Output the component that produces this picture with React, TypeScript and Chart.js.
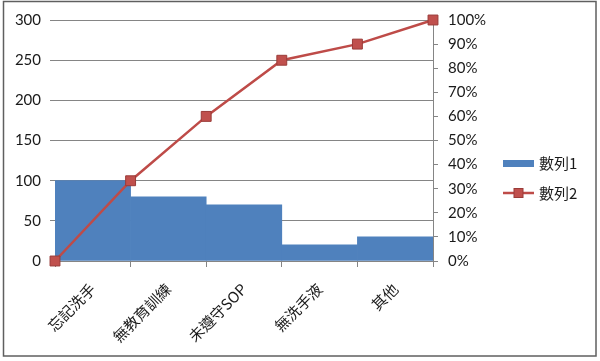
import React, { useEffect, useRef } from 'react';
import { Chart, registerables } from 'chart.js';

Chart.register(...registerables);

const categories = ['忘記洗手', '無教育訓練', '未遵守SOP', '無洗手液', '其他'];
const counts = [100, 80, 70, 20, 30];
const cumulativePositions = [0, 1, 2, 3, 4, 5];
const cumulativePercent = [0, 33.3, 60, 83.3, 90, 100];
const seriesNames = ['數列1', '數列2'];
const countAxis = { min: 0, max: 300, step: 50 };
const percentAxis = { min: 0, max: 100, step: 10 };

const BAR_COLOR = '#4F81BD';
const LINE_COLOR = '#BE4B48';
const MARKER_FILL = '#C0504D';
const MARKER_BORDER = '#9A3B38';
const GRID = '#858585';
const TEXT = '#1a1a1a';
const LATIN = 'Lato, "Noto Sans CJK TC", sans-serif';
const CJK = '"Noto Sans CJK TC", Lato, sans-serif';

const decorPlugin = {
  id: 'decor',
  afterDraw(chart: any) {
    const ctx = chart.ctx;
    ctx.save();
    // outer frame
    ctx.strokeStyle = '#5f5f5f';
    ctx.lineWidth = 1.5;
    ctx.strokeRect(3.5, 1.5, 592.5, 354.5);

    // legend
    const lx = 503;
    ctx.fillStyle = BAR_COLOR;
    ctx.fillRect(lx, 160, 31, 7);
    ctx.font = '15px ' + CJK;
    ctx.fillStyle = TEXT;
    ctx.textBaseline = 'middle';
    ctx.textAlign = 'left';
    ctx.fillText(seriesNames[0], lx + 36, 163);

    ctx.strokeStyle = LINE_COLOR;
    ctx.lineWidth = 2.5;
    ctx.beginPath();
    ctx.moveTo(lx, 193);
    ctx.lineTo(lx + 31, 193);
    ctx.stroke();
    ctx.fillStyle = MARKER_FILL;
    ctx.strokeStyle = MARKER_BORDER;
    ctx.lineWidth = 1;
    ctx.fillRect(lx + 11, 188.5, 9, 9);
    ctx.strokeRect(lx + 11, 188.5, 9, 9);
    ctx.fillStyle = TEXT;
    ctx.fillText(seriesNames[1], lx + 36, 193);
    ctx.restore();
  },
};

export default function App() {
  const ref = useRef<HTMLCanvasElement>(null);

  useEffect(() => {
    if (!ref.current) return;
    const chart = new Chart(ref.current, {
      type: 'line',
      data: {
        labels: categories,
        datasets: [
          {
            type: 'bar',
            label: seriesNames[0],
            data: counts,
            backgroundColor: BAR_COLOR,
            borderWidth: 0,
            barPercentage: 1,
            categoryPercentage: 1,
            grouped: false,
            xAxisID: 'x',
            yAxisID: 'y',
            order: 2,
          } as any,
          {
            type: 'line',
            label: seriesNames[1],
            data: cumulativePositions.map((x, i) => ({ x, y: cumulativePercent[i] })),
            borderColor: LINE_COLOR,
            borderWidth: 2.5,
            pointStyle: 'rect',
            pointRadius: 7,
            pointBackgroundColor: MARKER_FILL,
            pointBorderColor: MARKER_BORDER,
            pointBorderWidth: 1,
            xAxisID: 'x2',
            yAxisID: 'y2',
            clip: false,
            order: 1,
          } as any,
        ],
      },
      options: {
        responsive: false,
        animation: false,
        maintainAspectRatio: false,
        layout: { padding: { top: 20, right: 107, bottom: 5, left: 0 } },
        plugins: { legend: { display: false }, tooltip: { enabled: false } },
        scales: {
          x: {
            type: 'category',
            offset: true,
            position: 'bottom',
            grid: {
              offset: true,
              drawOnChartArea: false,
              tickLength: 6,
              color: GRID,
            },
            border: { display: true, color: GRID },
            ticks: {
              minRotation: 45,
              maxRotation: 45,
              autoSkip: false,
              padding: 13,
              color: TEXT,
              font: { family: CJK, size: 15 },
            },
            afterFit: (s: any) => {
              s.height = 95;
            },
          },
          x2: {
            type: 'linear',
            display: false,
            offset: false,
            min: 0,
            max: 5,
          },
          y: {
            position: 'left',
            min: countAxis.min,
            max: countAxis.max,
            grid: { color: GRID, tickLength: 5 },
            border: { display: false },
            ticks: {
              stepSize: countAxis.step,
              padding: 9,
              color: TEXT,
              font: { family: LATIN, size: 15 },
            },
            afterFit: (s: any) => {
              s.width = 55;
            },
          },
          y2: {
            position: 'right',
            min: percentAxis.min,
            max: percentAxis.max,
            grid: { drawOnChartArea: false, color: GRID, tickLength: 5 },
            border: { display: true, color: GRID },
            ticks: {
              stepSize: percentAxis.step,
              padding: 10,
              color: TEXT,
              font: { family: LATIN, size: 15 },
              callback: (v: any) => v + '%',
            },
            afterFit: (s: any) => {
              s.width = 60;
            },
          },
        },
      },
      plugins: [decorPlugin],
    });
    return () => chart.destroy();
  }, []);

  return (
    <div style={{ position: 'absolute', left: 0, top: 0, width: 600, height: 361, background: '#fff' }}>
      <canvas ref={ref} width={600} height={361} style={{ width: 600, height: 361, display: 'block' }} />
    </div>
  );
}
